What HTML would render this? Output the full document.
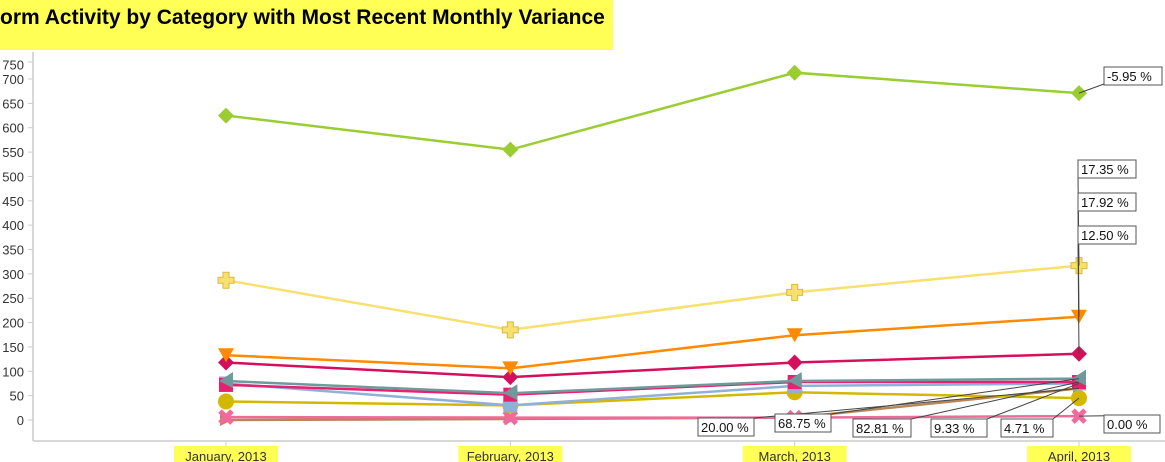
<!DOCTYPE html>
<html><head><meta charset="utf-8"><style>
body{margin:0;background:#fff;width:1165px;height:462px;overflow:hidden;font-family:"Liberation Sans",sans-serif}
#title{position:absolute;left:0;top:0;width:613px;height:50px;background:#ffff55}
#title span{position:absolute;left:0;top:6px;font-weight:bold;font-size:21px;white-space:nowrap;color:#000}
svg{position:absolute;left:0;top:0}
</style></head><body>
<div id="title"><span>orm Activity by Category with Most Recent Monthly Variance</span></div>
<svg id="c" width="1165" height="462"></svg>
<script>
const categories=["January, 2013","February, 2013","March, 2013","April, 2013"];
const yTicks=[0,50,100,150,200,250,300,350,400,450,500,550,600,650,700,750];
const sGreen=[625,555,713,671];
const sYellow=[287,185,262,317];
const sOrange=[133,106,174,212];
const sCrimson=[118,88,118,136];
const sPink=[72,52,78,78];
const sTeal=[80,55,80,85];
const sBlue=[75,30,70,75];
const sGold=[38,30,57,45];
const sX=[6,5,5,8];
const sBrown=[0,2,5,65];
const varLabels=["-5.95 %","17.35 %","17.92 %","12.50 %","20.00 %","68.75 %","82.81 %","9.33 %","4.71 %","0.00 %"];
const NS="http://www.w3.org/2000/svg";
const svg=document.getElementById('c');
const xs=[226,511,794,1079];
function X(i){return xs[0]+i*(xs[3]-xs[0])/(categories.length-1);}
function Y(v){return 420-v*0.4871;}
function mk(t,a,p){const e=document.createElementNS(NS,t);for(const k in a)e.setAttribute(k,a[k]);(p||svg).appendChild(e);return e;}
let e;
e=mk('line',{x1:33,y1:52,x2:33,y2:441,stroke:'#ccc','stroke-width':1.5});


e=mk('line',{x1:33,y1:441,x2:1165,y2:441,stroke:'#ccc','stroke-width':1.5});


yTicks.forEach(v=>{
 const y=v===750?Y(730):Y(v);
 mk('line',{x1:28,x2:33,y1:Y(Math.min(v,735)),y2:Y(Math.min(v,735)),stroke:'#ccc'});
 e=mk('text',{x:24,y:y+5,'text-anchor':'end','font-size':13,fill:'#333'});e.textContent=v;
 
 
});
categories.forEach((c,i)=>{
 mk('line',{x1:X(i),x2:X(i),y1:441,y2:446,stroke:'#ccc'});
 mk('rect',{x:X(i)-52,y:446,width:104,height:16,fill:'#ffff55'});
 e=mk('text',{x:X(i),y:461,'text-anchor':'middle','font-size':13,fill:'#333'});e.textContent=c;
 
 
});
function marker(type,x,y,col){
 let s=8;
 if(type==='diamond')return mk('polygon',{points:`${x},${y-s} ${x+s},${y} ${x},${y+s} ${x-s},${y}`,fill:col});
 if(type==='plus')return mk('path',{d:`M${x-3},${y-8}h6v5h5v6h-5v5h-6v-5h-5v-6h5z`,fill:col,stroke:'#d9b940','stroke-width':1});
 if(type==='tdown')return mk('polygon',{points:`${x-8},${y-7} ${x+8},${y-7} ${x},${y+7}`,fill:col});
 if(type==='square')return mk('rect',{x:x-7,y:y-7,width:14,height:14,fill:col});
 if(type==='tleft')return mk('polygon',{points:`${x+7},${y-9} ${x+7},${y+7} ${x-7},${y}`,fill:col});
 if(type==='circle')return mk('circle',{cx:x,cy:y,r:8,fill:col});
 if(type==='x')return mk('path',{d:`M${x-6},${y-6}L${x+6},${y+6}M${x+6},${y-6}L${x-6},${y+6}`,stroke:col,'stroke-width':5});
 if(type==='tri')return mk('polygon',{points:`${x-6},${y-6} ${x+6},${y} ${x-6},${y+6}`,fill:col});
 return null;
}
const series=[
 [sBrown,'#b8865a','tri','brown'],
 [sX,'#f06a9a','x','pink-x'],
 [sGold,'#d4b800','circle','gold'],
 [sBlue,'#8fb0d8','square','light-blue'],
 [sPink,'#e8206f','square','pink'],
 [sTeal,'#6f9a9c','tleft','teal'],
 [sCrimson,'#d4105c','diamond','crimson'],
 [sOrange,'#ff8a00','tdown','orange'],
 [sYellow,'#f8e070','plus','yellow'],
 [sGreen,'#9acd32','diamond','green']
];
series.forEach(([d,col,m,n])=>{
 e=mk('polyline',{points:d.map((v,i)=>X(i)+','+Y(v)).join(' '),fill:'none',stroke:col,'stroke-width':2.5});
 
 
 d.forEach((v,i)=>{const mm=marker(m,X(i),Y(v),col);if(mm){
  
  }});
});
const boxes=[[1104,67,58],[1078,160,58],[1078,193,58],[1078,226,58],[698,418,56],[775,414,56],[853,419,58],[931,419,56],[1001,419,52],[1104,415,56]];
const anchors=[[X(3),Y(sGreen[3])],[X(3),Y(sYellow[3])],[X(3),Y(sOrange[3])],[X(3),Y(sCrimson[3])],[X(3),Y(sBrown[3])],[X(3),Y(sTeal[3])],[X(3),Y(sPink[3])],[X(3),Y(sBlue[3])],[X(3),Y(sGold[3])],[X(3),Y(sX[3])]];
boxes.forEach((b,i)=>{
 mk('line',{x1:anchors[i][0],y1:anchors[i][1],x2:b[0]+(i>3?b[2]:0),y2:b[1]+(i>3?0:17),stroke:'#444','stroke-width':1});
});
boxes.forEach((b,i)=>{
 mk('rect',{x:b[0],y:b[1],width:b[2],height:18,fill:'#fff',stroke:'#555'});
 e=mk('text',{x:b[0]+3,y:b[1]+14,'font-size':13,fill:'#111'});e.textContent=varLabels[i];
 
 
});
</script>
</body></html>
